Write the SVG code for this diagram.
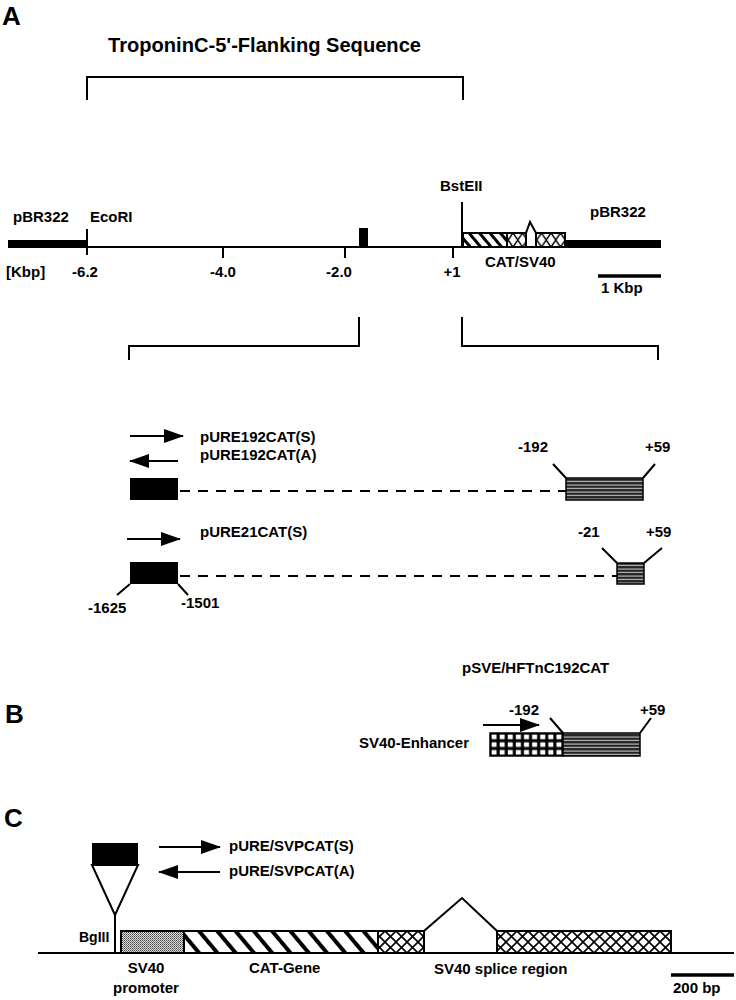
<svg xmlns="http://www.w3.org/2000/svg" width="736" height="1000" viewBox="0 0 736 1000">
<style>
text{font-family:"Liberation Sans",Arial,sans-serif;font-weight:bold;fill:#000}
.lbl{font-size:15px}
.big{font-size:26px}
.ttl{font-size:21px}
.ln{stroke:#000;stroke-width:2;fill:none}
.thick{stroke:#000;stroke-width:8;fill:none}
.dash{stroke:#000;stroke-width:2;fill:none;stroke-dasharray:10 8}
.box{stroke:#000;stroke-width:2}
</style>
<defs>
<pattern id="diagA" width="8" height="8" patternUnits="userSpaceOnUse" patternTransform="rotate(-40)"><rect width="8" height="8" fill="#fff"/><rect x="0" y="0" width="3" height="8" fill="#000"/></pattern>
<pattern id="diagC" width="14" height="14" patternUnits="userSpaceOnUse" patternTransform="rotate(-40)"><rect width="14" height="14" fill="#fff"/><rect x="0" y="0" width="4" height="14" fill="#000"/></pattern>
<pattern id="xA" x="0" y="233" width="9.5" height="14" patternUnits="userSpaceOnUse"><rect width="9.5" height="14" fill="#fff"/><path d="M0,0L9.5,14M9.5,0L0,14" stroke="#000" stroke-width="1.5"/></pattern>
<pattern id="xC" x="0" y="931" width="11" height="11" patternUnits="userSpaceOnUse"><rect width="11" height="11" fill="#fff"/><path d="M0,0L11,11M11,0L0,11" stroke="#000" stroke-width="1.6"/></pattern>
<pattern id="hstr" width="4" height="3.5" patternUnits="userSpaceOnUse"><rect width="4" height="3.5" fill="#222"/><rect y="1.5" width="4" height="1" fill="#ddd"/></pattern>
<pattern id="grid" x="490" y="733" width="8.1" height="7.7" patternUnits="userSpaceOnUse"><rect width="8.1" height="7.7" fill="#000"/><rect x="1.6" y="1.6" width="5" height="4.6" fill="#fff"/></pattern>
<pattern id="stip" width="2" height="2" patternUnits="userSpaceOnUse"><rect width="2" height="2" fill="#ddd"/><rect width="1" height="1" fill="#444"/><rect x="1" y="1" width="1" height="1" fill="#777"/></pattern>
<marker id="ah" markerWidth="20" markerHeight="14" refX="19" refY="7" orient="auto" markerUnits="userSpaceOnUse"><path d="M0,0L20,7L0,14z" fill="#000"/></marker>
</defs>

<g id="labels-panels">
<text class="big" x="2" y="25">A</text>
<text class="big" x="5" y="723">B</text>
<text class="big" x="4" y="827">C</text>
</g>

<g id="panelA-map">
<text class="ttl" x="108" y="52" textLength="313" lengthAdjust="spacingAndGlyphs">TroponinC-5'-Flanking Sequence</text>
<path class="ln" d="M87,100V77H463V100"/>
<path class="thick" d="M8,244H87"/>
<path class="ln" d="M87,247H463"/>
<path class="ln" d="M87,229V255M223,246V258M345,246V258M453,246V258"/>
<rect x="359" y="228" width="9" height="20" fill="#000"/>
<path class="ln" d="M462,202V247"/>
<rect x="463" y="233" width="44" height="14" fill="url(#diagA)" class="box"/>
<rect x="507" y="233" width="19" height="14" fill="url(#xA)" class="box"/>
<rect x="536" y="233" width="29" height="14" fill="url(#xA)" class="box"/>
<path class="ln" d="M526,247V233L530,222L536,233V247" fill="#fff"/>
<path class="ln" d="M526,247H536"/>
<path class="thick" d="M565,244H661"/>
<text class="lbl" x="13" y="222">pBR322</text>
<text class="lbl" x="90" y="222">EcoRI</text>
<text class="lbl" x="440" y="191">BstEII</text>
<text class="lbl" x="590" y="217">pBR322</text>
<text class="lbl" x="6" y="277">[Kbp]</text>
<text class="lbl" x="85" y="277" text-anchor="middle">-6.2</text>
<text class="lbl" x="223" y="277" text-anchor="middle">-4.0</text>
<text class="lbl" x="339" y="277" text-anchor="middle">-2.0</text>
<text class="lbl" x="452" y="277" text-anchor="middle">+1</text>
<text class="lbl" x="485" y="267">CAT/SV40</text>
<path d="M598,276H661" stroke="#000" stroke-width="3.5"/>
<text class="lbl" x="601" y="293">1 Kbp</text>
</g>

<g id="panelA-brackets">
<path class="ln" d="M129,360V346H359V317"/>
<path class="ln" d="M462,317V346H658V360"/>
</g>

<g id="construct-192">
<path class="ln" d="M130,436H183" marker-end="url(#ah)"/>
<text class="lbl" x="200" y="442">pURE192CAT(S)</text>
<path class="ln" d="M178,461H130" marker-end="url(#ah)"/>
<text class="lbl" x="200" y="460">pURE192CAT(A)</text>
<rect x="130" y="478" width="48" height="22" fill="#000"/>
<path class="dash" d="M180,491H566"/>
<rect x="566" y="478" width="77" height="22" fill="url(#hstr)" stroke="#000" stroke-width="1.5"/>
<path class="ln" d="M566,478L553,464M643,478L655,464" stroke-width="2.5"/>
<text class="lbl" x="518" y="452">-192</text>
<text class="lbl" x="645" y="452">+59</text>
</g>

<g id="construct-21">
<path class="ln" d="M127,539H180" marker-end="url(#ah)"/>
<text class="lbl" x="200" y="537">pURE21CAT(S)</text>
<rect x="130" y="562" width="48" height="22" fill="#000"/>
<path class="ln" d="M130,584L117,595M178,584L188,595" stroke-width="2.5"/>
<text class="lbl" x="88" y="613">-1625</text>
<text class="lbl" x="181" y="608">-1501</text>
<path class="dash" d="M180,576H617"/>
<rect x="617" y="563" width="27" height="21" fill="url(#hstr)" stroke="#000" stroke-width="1.5"/>
<path class="ln" d="M617,563L602,548M644,563L662,548" stroke-width="2.5"/>
<text class="lbl" x="578" y="537">-21</text>
<text class="lbl" x="646" y="537">+59</text>
</g>

<g id="panelB">
<text class="lbl" x="462" y="673">pSVE/HFTnC192CAT</text>
<text class="lbl" x="509" y="715">-192</text>
<text class="lbl" x="640" y="715">+59</text>
<path class="ln" d="M483,725H539" marker-end="url(#ah)"/>
<text class="lbl" x="359" y="748">SV40-Enhancer</text>
<rect x="490" y="733" width="73" height="23" fill="url(#grid)" stroke="#000" stroke-width="1.5"/>
<rect x="563" y="733" width="77" height="23" fill="url(#hstr)" stroke="#000" stroke-width="1.5"/>
<path class="ln" d="M563,733L550,718M640,733L651,718" stroke-width="2.5"/>
</g>

<g id="panelC">
<rect x="92" y="843" width="46" height="22" fill="#000"/>
<path class="ln" d="M92,865H138L115,915Z" fill="#fff"/>
<path class="ln" d="M115,915V953"/>
<path class="ln" d="M38,953H734"/>
<rect x="121" y="931" width="63" height="22" fill="url(#stip)" class="box"/>
<rect x="184" y="931" width="194" height="22" fill="url(#diagC)" class="box"/>
<rect x="378" y="931" width="46" height="22" fill="url(#xC)" class="box"/>
<path class="ln" d="M424,953V931L462,898L497,931V953" fill="#fff"/>
<rect x="497" y="931" width="174" height="22" fill="url(#xC)" class="box"/>
<path class="ln" d="M159,847H220" marker-end="url(#ah)"/>
<text class="lbl" x="229" y="851">pURE/SVPCAT(S)</text>
<path class="ln" d="M220,872H159" marker-end="url(#ah)"/>
<text class="lbl" x="229" y="876">pURE/SVPCAT(A)</text>
<text class="lbl" x="79" y="942" style="font-size:14px">BgIII</text>
<text class="lbl" x="146" y="973" text-anchor="middle">SV40</text>
<text class="lbl" x="146" y="993" text-anchor="middle">promoter</text>
<text class="lbl" x="249" y="973">CAT-Gene</text>
<text class="lbl" x="434" y="974">SV40 splice region</text>
<path d="M671,975H734" stroke="#000" stroke-width="3.5"/>
<text class="lbl" x="673" y="993">200 bp</text>
</g>
</svg>
